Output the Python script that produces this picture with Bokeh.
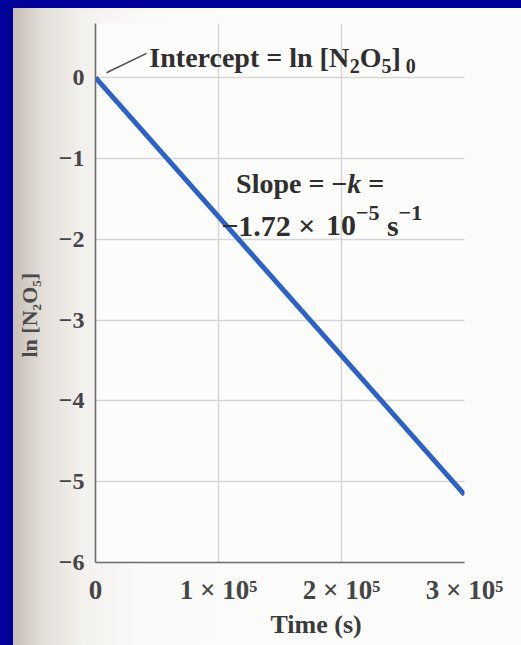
from bokeh.plotting import figure
from bokeh.models import FixedTicker, Label, Arrow, Title
from bokeh.layouts import column
from bokeh.embed import file_html
from bokeh.resources import INLINE

# First-order decomposition of N2O5: ln[N2O5] against time
time_s = [0, 100000, 200000, 300000]
ln_n2o5 = [0.0, -1.72, -3.44, -5.16]

y_ticks = [0, -1, -2, -3, -4, -5, -6]
y_tick_labels = ["0", "−1", "−2", "−3", "−4", "−5", "−6"]
x_ticks = [0, 100000, 200000, 300000]
x_tick_labels = ["0", "1 × 10⁵", "2 × 10⁵", "3 × 10⁵"]

x_title = "Time (s)"
y_title = "ln [N₂O₅]"

SERIF = "Liberation Serif"
INK = "#2f2f2f"
TICK_INK = "#454545"
SLIDE_BLUE = "#02029b"

# advance widths (em) of the bold serif face, for laying out mixed-size runs
ADV = {" ": 0.25, "=": 0.57, "−": 0.57, "×": 0.57, ".": 0.25, "[": 0.333,
       "]": 0.333, "I": 0.389, "N": 0.722, "O": 0.778, "S": 0.556, "c": 0.444,
       "e": 0.444, "k": 0.5, "l": 0.278, "n": 0.556, "o": 0.5, "p": 0.556,
       "r": 0.444, "s": 0.389, "t": 0.333}


def advance(text, size):
    return sum(ADV.get(ch, 0.5) for ch in text) * size


p = figure(
    width=521, height=637,
    x_range=(0, 300000), y_range=(-6, 0.67),
    output_backend="svg", toolbar_location=None,
    min_border_left=94, min_border_right=57,
    min_border_top=15, min_border_bottom=83,
    background_fill_color="#fcfcfb",
    border_fill_alpha=0,
)
# slide edge on the left, then the shaded paper margin
p.styles = {
    "background": f"linear-gradient(90deg, {SLIDE_BLUE} 0px, {SLIDE_BLUE} 13px, "
                  "#c6beb6 13px, #e2ddd7 41px, #f3f1ee 83px, #fafaf8 143px, "
                  "#fbfbfa 100%)"
}
p.outline_line_color = None

# axes
for ax in (p.xaxis, p.yaxis):
    ax.axis_line_color = "#6c6c6c"
    ax.axis_line_width = 1.6
    ax.major_tick_line_color = None
    ax.minor_tick_line_color = None
    ax.major_label_text_font = SERIF
    ax.major_label_text_font_style = "bold"
    ax.major_label_text_color = TICK_INK

p.xaxis.ticker = FixedTicker(ticks=x_ticks)
p.xaxis.major_label_overrides = dict(zip(x_ticks, x_tick_labels))
p.xaxis.major_label_text_font_size = "27px"
p.xaxis.major_label_standoff = 6

p.yaxis.ticker = FixedTicker(ticks=y_ticks)
p.yaxis.major_label_overrides = dict(zip(y_ticks, y_tick_labels))
p.yaxis.major_label_text_font_size = "24px"
p.yaxis.major_label_standoff = 5

# axis titles, shifted along their axes
p.add_layout(Title(text=x_title, align="left", offset=175, standoff=1,
                   text_font=SERIF, text_font_size="26px", text_font_style="bold",
                   text_color="#3a3a3a"), "below")
p.add_layout(Title(text=y_title, align="left", offset=205, standoff=28,
                   text_font=SERIF, text_font_size="22px", text_font_style="bold",
                   text_color="#4a4a4a"), "left")

# grid
p.xgrid.ticker = FixedTicker(ticks=x_ticks)
p.ygrid.ticker = FixedTicker(ticks=y_ticks)
for g in (p.xgrid, p.ygrid):
    g.grid_line_color = "#d6d6d6"
    g.grid_line_width = 1.5

# the fitted line
p.line(time_s, ln_n2o5, line_color="#2c62c8", line_width=5)

# leader from the intercept to its caption
p.add_layout(Arrow(end=None, x_start=8900, y_start=0.06, x_end=41500, y_end=0.30,
                   line_color="#505050", line_width=1.6))


def run(x, y, pieces):
    """Lay out a caption made of runs: (text, size, style, rise, extra_gap)."""
    off = 0.0
    for text, size, style, rise, gap in pieces:
        off += gap
        lead = len(text) - len(text.lstrip(" "))
        off += advance(text[:lead], size)
        body = text.lstrip(" ")
        p.add_layout(Label(x=x, y=y, x_offset=off, y_offset=rise, text=body,
                           text_font=SERIF, text_font_size=f"{size}px",
                           text_font_style=style, text_color=INK,
                           text_baseline="alphabetic"))
        off += advance(body, size)


B, BI = "bold", "bold italic"

run(43800, 0.25, [
    ("Intercept = ln [N", 28, B, 0, 0),
    ("2", 20, B, -9, 0),
    ("O", 28, B, 0, 0),
    ("5", 20, B, -9, 0),
    ("]", 28, B, 0, 0),
    ("0", 20, B, -9, 5),
])

run(114300, -1.31, [
    ("Slope = −", 28, B, 0, 0),
    ("k", 28, BI, 0, 0),
    (" =", 28, B, 0, 0),
])

run(102200, -1.83, [
    ("−1.72 ×", 30, B, 0, 0),
    (" 10", 30, B, 0, 3),
    ("−5", 22, B, 13, 0),
    (" s", 30, B, 0, 0),
    ("−1", 22, B, 13, 0),
])

layout = column(p, styles={"background-color": SLIDE_BLUE,
                           "padding": "8px 0px 0px 0px"})

open("out.html", "w").write(file_html(layout, INLINE))
